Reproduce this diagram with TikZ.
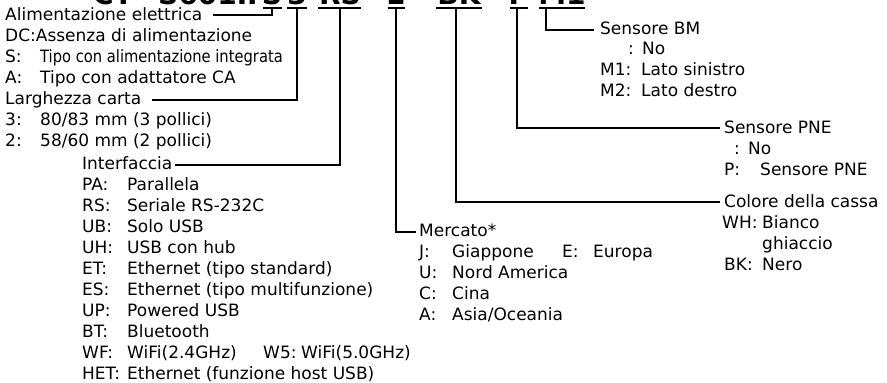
\documentclass[tikz,border=0pt]{standalone}
\usepackage{fontspec}
\usepackage{graphicx}
\setmainfont{DejaVu Sans}
\begin{document}
\begin{tikzpicture}[x=1pt,y=-1pt,
  lbl/.style={anchor=base west, inner sep=0pt, font=\fontsize{17}{20}\selectfont},
  code/.style={anchor=base, inner sep=0pt, font=\fontsize{28}{30}\selectfont\bfseries},
  conn/.style={line width=1.6pt}]
\useasboundingbox (0,0) rectangle (887,383);
% --- model code (cut off at the top) ---
\begin{scope}
\clip (0,0) rectangle (887,383);
\node[code,anchor=base west] (cCT) at (93,4) {CT-};
\node[code,anchor=base west] (cMod) at (158,4) {S601II};
\node[code] (cS) at (272,4) {S};
\node[code] (c3) at (297,4) {3};
\node[code] (cRS) at (340,4) {RS};
\node[code] (cE) at (396,4) {E};
\node[code] (cBK) at (459,4) {BK};
\node[code] (cP) at (519,4) {P};
\node[code] (cM1) at (562,4) {M1};
\end{scope}
% underline end points and connector corners
\coordinate (uSa) at (263,8);  \coordinate (uSb) at (282,8);  \coordinate (tS) at (272,8);
\coordinate (u3a) at (287,8);  \coordinate (u3b) at (307,8);  \coordinate (t3) at (297,8);
\coordinate (uRa) at (318,8);  \coordinate (uRb) at (361,8);  \coordinate (tR) at (340,8);
\coordinate (uEa) at (388,8);  \coordinate (uEb) at (405,8);  \coordinate (tE) at (396,8);
\coordinate (uBa) at (436,8);  \coordinate (uBb) at (482,8);  \coordinate (tB) at (456,8);
\coordinate (uPa) at (510,8);  \coordinate (uPb) at (528,8);  \coordinate (tP) at (517,8);
\coordinate (uMa) at (539,8);  \coordinate (uMb) at (585,8);  \coordinate (tM) at (546,8);
\coordinate (eS) at (213,15);
\coordinate (e3) at (152,100);
\coordinate (eR) at (175,165);
\coordinate (eE) at (416,232);
\coordinate (eB) at (720,202);
\coordinate (eP) at (720,128);
\coordinate (eM) at (594,30);
\foreach \a/\b in {uSa/uSb,u3a/u3b,uRa/uRb,uEa/uEb,uBa/uBb,uPa/uPb,uMa/uMb}
  \draw[conn] (\a) -- (\b);
\draw[conn] (tS) |- (eS);
\draw[conn] (t3) |- (e3);
\draw[conn] (tR) |- (eR);
\draw[conn] (tE) |- (eE);
\draw[conn] (tB) |- (eB);
\draw[conn] (tP) |- (eP);
\draw[conn] (tM) |- (eM);
% --- left block ---
\node[lbl] (alim) at (5,20) {Alimentazione elettrica};
\node[lbl] (dc) at (5,41) {DC:Assenza di alimentazione};
\node[lbl] (sK) at (5,62) {S:};
\node[lbl] (sV) at (40,62) {\scalebox{0.865}[1]{Tipo con alimentazione integrata}};
\node[lbl] (aK) at (5,83) {A:};
\node[lbl] (aV) at (40,83) {Tipo con adattatore CA};
\node[lbl] (larg) at (5,104) {Larghezza carta};
\node[lbl] (w3K) at (5,125) {3:};
\node[lbl] (w3V) at (40,125) {80/83 mm (3 pollici)};
\node[lbl] (w2K) at (5,146) {2:};
\node[lbl] (w2V) at (40,146) {58/60 mm (2 pollici)};
% --- interface block ---
\node[lbl] (intf) at (82,169) {Interfaccia};
\node[lbl] (paK) at (82,190) {PA:};  \node[lbl] (paV) at (127,190) {Parallela};
\node[lbl] (rsK) at (82,211) {RS:};  \node[lbl] (rsV) at (127,211) {Seriale RS-232C};
\node[lbl] (ubK) at (82,232) {UB:};  \node[lbl] (ubV) at (127,232) {Solo USB};
\node[lbl] (uhK) at (82,253) {UH:};  \node[lbl] (uhV) at (127,253) {USB con hub};
\node[lbl] (etK) at (82,274) {ET:};  \node[lbl] (etV) at (127,274) {Ethernet (tipo standard)};
\node[lbl] (esK) at (82,295) {ES:};  \node[lbl] (esV) at (127,295) {Ethernet (tipo multifunzione)};
\node[lbl] (upK) at (82,316) {UP:};  \node[lbl] (upV) at (127,316) {Powered USB};
\node[lbl] (btK) at (82,337) {BT:};  \node[lbl] (btV) at (127,337) {Bluetooth};
\node[lbl] (wfK) at (82,358) {WF:};  \node[lbl] (wfV) at (127,358) {WiFi(2.4GHz)};
\node[lbl] (w5K) at (263,358) {W5:}; \node[lbl] (w5V) at (301,358) {WiFi(5.0GHz)};
\node[lbl] (hetK) at (82,379) {HET:}; \node[lbl] (hetV) at (127,379) {Ethernet (funzione host USB)};
% --- market block ---
\node[lbl] (merc) at (419,236) {Mercato*};
\node[lbl] (jK) at (419,257) {J:};  \node[lbl] (jV) at (452,257) {Giappone};
\node[lbl] (eK) at (562,257) {E:};  \node[lbl] (eV) at (593,257) {Europa};
\node[lbl] (uK) at (419,278) {U:};  \node[lbl] (uV) at (452,278) {Nord America};
\node[lbl] (cK) at (419,299) {C:};  \node[lbl] (cV) at (452,299) {Cina};
\node[lbl] (aaK) at (419,320) {A:}; \node[lbl] (aaV) at (452,320) {Asia/Oceania};
% --- BM sensor ---
\node[lbl] (bm) at (600,34) {Sensore BM};
\node[lbl] (bmnK) at (628,54) {:};  \node[lbl] (bmnV) at (642,54) {No};
\node[lbl] (m1K) at (600,75) {M1:}; \node[lbl] (m1V) at (641,75) {Lato sinistro};
\node[lbl] (m2K) at (600,96) {M2:}; \node[lbl] (m2V) at (641,96) {Lato destro};
% --- PNE sensor ---
\node[lbl] (pne) at (724,133) {Sensore PNE};
\node[lbl] (pnenK) at (734,154) {:}; \node[lbl] (pnenV) at (748,154) {No};
\node[lbl] (pK) at (724,175) {P:};   \node[lbl] (pV) at (760,175) {Sensore PNE};
% --- colour ---
\node[lbl] (col) at (724,207) {Colore della cassa};
\node[lbl] (whK) at (722,228) {WH:}; \node[lbl] (whV) at (762,228) {Bianco};
\node[lbl] (whV2) at (762,249) {ghiaccio};
\node[lbl] (bkK) at (724,270) {BK:}; \node[lbl] (bkV) at (762,270) {Nero};
\end{tikzpicture}
\end{document}
